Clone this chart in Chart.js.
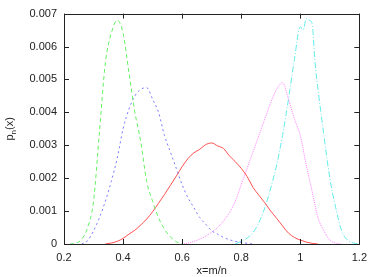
<!DOCTYPE html>
<html>
<head>
<meta charset="utf-8">
<script src="https://cdn.jsdelivr.net/npm/chart.js@4/dist/chart.umd.min.js"></script>
<style>
  html, body { margin: 0; padding: 0; background: #fff; }
  #wrap { width: 374px; height: 277px; }
</style>
</head>
<body>
<div id="wrap"><canvas id="c"></canvas></div>
<script>
// tick values
var xTicks = [0.2, 0.4, 0.6, 0.8, 1.0, 1.2];
var yTicks = [0, 0.001, 0.002, 0.003, 0.004, 0.005, 0.006, 0.007];

// green, dashed
var xs1 = [0.22,0.24,0.26,0.28,0.30,0.32,0.34,0.36,0.38,0.40,0.42,0.44,0.46,0.48,0.50,0.52,0.54,0.56,0.58,0.60];
var ps1 = [0,0.00002,0.00015,0.0005,0.0013,0.0034,0.0055,0.0064,0.0068,0.0064,0.0052,0.0040,0.0031,0.0019,0.0013,0.0008,0.00045,0.00022,0.00007,0];

// blue, dotted
var xs2 = [0.26,0.28,0.30,0.32,0.34,0.36,0.38,0.40,0.42,0.44,0.46,0.48,0.50,0.52,0.54,0.56,0.58,0.60,0.62,0.64,0.66,0.68,0.70,0.72,0.74,0.76,0.78,0.80,0.82,0.84];
var ps2 = [0,0.0001,0.0004,0.0008,0.0013,0.0019,0.0026,0.0035,0.0041,0.0045,0.0047,0.00475,0.0044,0.0040,0.0033,0.0028,0.0023,0.0018,0.0014,0.0011,0.0008,0.0006,0.0004,0.0003,0.0002,0.00013,0.00008,0.00005,0.00002,0];

// red, solid
var xs3 = [0.34,0.36,0.38,0.40,0.42,0.44,0.46,0.48,0.50,0.52,0.54,0.56,0.58,0.60,0.62,0.64,0.66,0.68,0.70,0.72,0.74,0.76,0.78,0.80,0.82,0.84,0.86,0.88,0.90,0.92,0.94,0.96,0.98,1.00,1.02,1.04,1.06];
var ps3 = [0,0.00003,0.00008,0.00017,0.0003,0.00042,0.00058,0.00076,0.00098,0.00124,0.0015,0.00178,0.00206,0.00235,0.0026,0.00277,0.00288,0.00302,0.00307,0.00298,0.0029,0.00268,0.0025,0.0023,0.00205,0.00172,0.00148,0.00125,0.001,0.00078,0.00055,0.00033,0.0002,0.00012,0.00006,0.00002,0];

// magenta, dotted
var xs4 = [0.60,0.62,0.64,0.66,0.68,0.70,0.72,0.74,0.76,0.78,0.80,0.82,0.84,0.86,0.88,0.90,0.92,0.94,0.96,0.98,1.00,1.02,1.04,1.06,1.08,1.10,1.12,1.14];
var ps4 = [0,0.00003,0.00008,0.00015,0.00024,0.00036,0.0005,0.0007,0.00095,0.0013,0.0018,0.0023,0.0028,0.0033,0.0038,0.0043,0.0047,0.0049,0.0044,0.0038,0.0033,0.0024,0.0016,0.0008,0.0004,0.00012,0.00003,0];

// cyan, dash-dot
var xs5 = [0.78,0.80,0.82,0.84,0.86,0.88,0.90,0.92,0.94,0.96,0.98,1.00,1.01,1.02,1.03,1.04,1.05,1.06,1.08,1.10,1.12,1.14,1.16,1.18,1.20];
var ps5 = [0,0.00008,0.00018,0.00035,0.00065,0.0011,0.0017,0.0024,0.0033,0.0044,0.0056,0.0066,0.0065,0.00685,0.0068,0.0067,0.0055,0.0047,0.0033,0.0020,0.0011,0.0004,0.00012,0.00003,0];

function pts(xs, ps) {
  return xs.map(function (x, i) { return { x: x, y: ps[i] }; });
}

function line(xs, ps, color, dash) {
  return {
    data: pts(xs, ps),
    borderColor: color,
    borderWidth: 1,
    borderDash: dash,
    pointRadius: 0,
    fill: false,
    cubicInterpolationMode: 'monotone'
  };
}

var font = { family: "'Liberation Sans', Arial, sans-serif", size: 11 };
var ink = '#222';

// frame, inward ticks on all four sides, axis titles
var frame = {
  id: 'frame',
  afterDraw: function (chart) {
    var ctx = chart.ctx, a = chart.chartArea;
    var sx = chart.scales.x, sy = chart.scales.y;
    ctx.save();
    ctx.strokeStyle = ink;
    ctx.lineWidth = 1;
    ctx.strokeRect(Math.round(a.left) + 0.5, Math.round(a.top) + 0.5,
                   Math.round(a.right - a.left), Math.round(a.bottom - a.top));
    ctx.beginPath();
    xTicks.forEach(function (v) {
      var px = Math.round(sx.getPixelForValue(v)) + 0.5;
      ctx.moveTo(px, a.bottom); ctx.lineTo(px, a.bottom - 5);
      ctx.moveTo(px, a.top); ctx.lineTo(px, a.top + 5);
    });
    yTicks.forEach(function (v) {
      var py = Math.round(sy.getPixelForValue(v)) + 0.5;
      ctx.moveTo(a.left, py); ctx.lineTo(a.left + 5, py);
      ctx.moveTo(a.right, py); ctx.lineTo(a.right - 5, py);
    });
    ctx.stroke();

    ctx.fillStyle = ink;
    ctx.font = '11px ' + font.family;
    ctx.textAlign = 'center';
    ctx.textBaseline = 'middle';
    ctx.fillText('x=m/n', (a.left + a.right) / 2, 271);

    // y title with subscript n
    ctx.translate(9, (a.top + a.bottom) / 2);
    ctx.rotate(-Math.PI / 2);
    ctx.textAlign = 'left';
    ctx.textBaseline = 'alphabetic';
    var p = 'p', n = 'n', rest = '(x)';
    var wp = ctx.measureText(p).width, wr = ctx.measureText(rest).width;
    ctx.font = '8px ' + font.family;
    var wn = ctx.measureText(n).width;
    var x0 = -(wp + wn + wr) / 2;
    ctx.font = '11px ' + font.family;
    ctx.fillText(p, x0, 4);
    ctx.font = '8px ' + font.family;
    ctx.fillText(n, x0 + wp, 7);
    ctx.font = '11px ' + font.family;
    ctx.fillText(rest, x0 + wp + wn, 4);
    ctx.restore();
  }
};

new Chart(document.getElementById('c'), {
  type: 'line',
  data: {
    datasets: [
      line(xs1, ps1, 'rgb(100,240,100)', [4, 3]),
      line(xs2, ps2, 'rgb(120,120,255)', [2, 3]),
      line(xs3, ps3, 'rgb(255,80,80)', []),
      line(xs4, ps4, 'rgb(255,130,255)', [1, 1]),
      line(xs5, ps5, 'rgb(100,235,235)', [6, 2, 1, 2])
    ]
  },
  options: {
    responsive: true,
    maintainAspectRatio: false,
    animation: false,
    layout: { padding: { top: 4, right: 9, left: 0, bottom: 0 } },
    plugins: { legend: { display: false }, tooltip: { enabled: false } },
    scales: {
      x: {
        type: 'linear',
        min: 0.2, max: 1.2,
        afterFit: function (s) { s.height = 33; },
        afterBuildTicks: function (s) { s.ticks = xTicks.map(function (v) { return { value: v }; }); },
        grid: { display: false, drawTicks: false },
        border: { display: false },
        ticks: {
          font: font, color: ink, padding: 7, maxRotation: 0,
          callback: function (v) { return String(Math.round(v * 10) / 10); }
        }
      },
      y: {
        type: 'linear',
        min: 0, max: 0.007,
        afterFit: function (s) { s.width = 64; },
        afterBuildTicks: function (s) { s.ticks = yTicks.map(function (v) { return { value: v }; }); },
        grid: { display: false, drawTicks: false },
        border: { display: false },
        ticks: {
          font: font, color: ink, padding: 7,
          callback: function (v) { return v === 0 ? '0' : v.toFixed(3); }
        }
      }
    }
  },
  plugins: [frame]
});
</script>
</body>
</html>
